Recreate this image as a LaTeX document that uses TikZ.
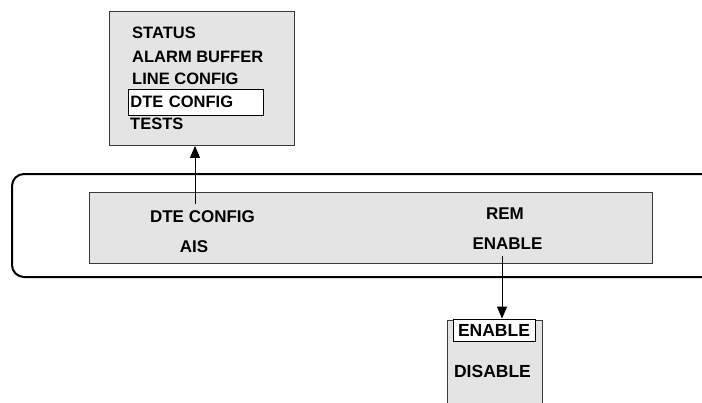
\documentclass[tikz,border=0pt]{standalone}
\usepackage{fontspec}
\setmainfont{Liberation Sans}
\usetikzlibrary{arrows.meta}
\definecolor{panel}{HTML}{E4E4E4}
\definecolor{edge}{HTML}{3A3A3A}
\tikzset{
  panelbox/.style={draw=edge, line width=0.9pt, fill=panel},
  item/.style={font=\fontsize{17}{20}\selectfont\bfseries, inner sep=0pt},
  menufont/.style={font=\fontsize{16.5}{19}\selectfont\bfseries},
  menuitem/.style={menufont, inner sep=0pt, anchor=west},
  chosen/.style={draw=black, line width=0.9pt, fill=white},
  link/.style={line width=0.9pt, -{Triangle[length=12pt,width=10pt]}}
}
\begin{document}
\begin{tikzpicture}[x=1pt,y=-1pt]
\useasboundingbox (0,0) rectangle (702,402);
\begin{scope}
\clip (0,0) rectangle (702,402);
% top menu panel
\node[panelbox, anchor=north west, minimum width=185pt, minimum height=134pt, inner sep=0pt] (menu) at (109,11) {};
\node[menuitem] (status) at (132,33) {STATUS};
\node[menuitem] (alarm) at (132,57) {ALARM BUFFER};
\node[menuitem] (line) at (132,79) {LINE CONFIG};
\node[chosen, menufont, anchor=west, minimum width=135pt, minimum height=26pt, text width=131pt, inner xsep=2pt, inner ysep=0pt, align=left] (dte) at (128,102) {DTE CONFIG};
\node[menuitem] (tests) at (130,124) {TESTS};
% display frame
\draw[line width=2pt, rounded corners=12pt] (712,174) -- (12,174) -- (12,277) -- (712,277);
\node[panelbox, anchor=north west, minimum width=563pt, minimum height=71pt, inner sep=0pt] (screen) at (89,192) {};
\node[item] (dteconf) at (202.5,217) {DTE CONFIG};
\node[item] (ais) at (194,247) {AIS};
\node[item] (rem) at (505,214) {REM};
\node[item] (enable) at (507.5,243.5) {ENABLE};
% option panel
\path[fill=panel] (447,320) rectangle (542,410);
\draw[edge, line width=0.9pt] (447,410) -- (447,320) -- (542,320) -- (542,410);
\node[chosen, minimum width=82pt, minimum height=22pt, inner sep=0pt, font=\fontsize{17.5}{20}\selectfont\bfseries] (optenable) at (494,330) {ENABLE};
\node[item, font=\fontsize{17.5}{20}\selectfont\bfseries] (optdisable) at (492.5,371) {DISABLE};
% connectors
\coordinate (dtelead) at (195,204);
\draw[link] (dtelead) -- (dtelead |- menu.south);
\coordinate (enablelead) at (502,256);
\draw[link] (enablelead) -- (enablelead |- optenable.north);
\end{scope}
\end{tikzpicture}
\end{document}
